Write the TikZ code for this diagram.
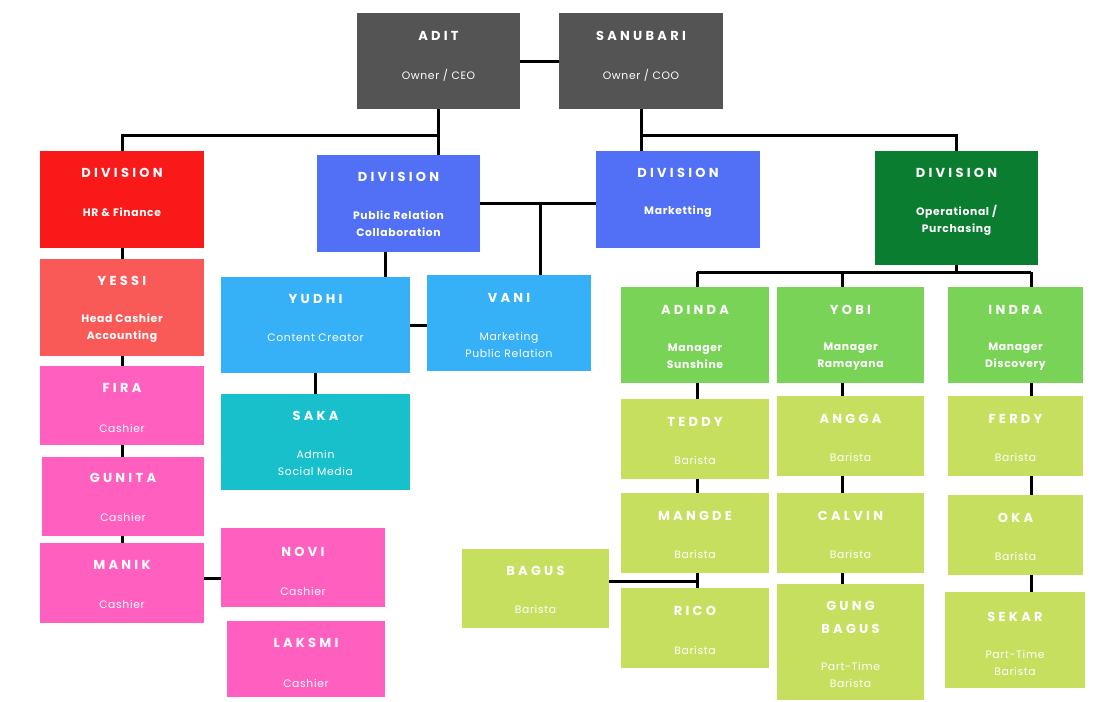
\documentclass[tikz,border=0pt]{standalone}
\usepackage{fontspec}
\setmainfont{Poppins}
\newfontfamily\nmfont[LetterSpace=25]{Poppins}
\newfontfamily\sbfont[LetterSpace=6]{Poppins}
\usetikzlibrary{calc}
\definecolor{cgrey}{RGB}{84,84,84}
\definecolor{cred}{RGB}{250,25,25}
\definecolor{csalmon}{RGB}{249,90,88}
\definecolor{cpink}{RGB}{255,95,190}
\definecolor{cblue}{RGB}{82,112,246}
\definecolor{csky}{RGB}{54,176,247}
\definecolor{cteal}{RGB}{24,192,204}
\definecolor{cdgreen}{RGB}{11,125,48}
\definecolor{cgreen}{RGB}{121,211,86}
\definecolor{clime}{RGB}{199,223,94}
\tikzset{
  obox/.style={rectangle,draw=none,inner sep=0pt,outer sep=0pt},
  nm/.style={text=white,inner sep=0pt,font=\nmfont\bfseries\fontsize{13}{23}\selectfont,align=center},
  sb/.style={text=white,inner sep=0pt,font=\sbfont\fontsize{10.8}{17}\selectfont,align=center},
  conn/.style={line width=3pt,black},
}
\newcommand\orgbox[6]{%
  \node[obox,fill=#6,minimum width={(#4-#2)*1pt},minimum height={(#5-#3)*1pt}] (#1) at ({(#2+#4)/2},{(#3+#5)/2}) {};}
\newcommand\orgtext[5]{%
  \node[nm] (#1-t) at ($(#1.north)+(0,#2)$) {#3};
  \node[sb] (#1-s) at ($(#1.north)+(0,#4)$) {#5};}
\begin{document}
\begin{tikzpicture}[x=1pt,y=-1pt]
\fill[white] (0,0) rectangle (1096,702);
\useasboundingbox (0,0) rectangle (1096,702);
% coordinates for connector levels
\coordinate (hlev) at (0,135);
\coordinate (pm) at (540,203);
\coordinate (pry) at (385,250);
\coordinate (mn) at (212,578);
\coordinate (colA) at (697,272);
\coordinate (colB) at (842,272);
\coordinate (colC) at (1031,272);
\coordinate (bj) at (697,581);
% boxes
\orgbox{adit}{357}{13}{520}{109}{cgrey}
\orgbox{sanubari}{559}{13}{723}{109}{cgrey}
\orgbox{hr}{40}{151}{204}{248}{cred}
\orgbox{prdiv}{317}{155}{480}{252}{cblue}
\orgbox{mkt}{596}{151}{760}{248}{cblue}
\orgbox{opdiv}{875}{151}{1038}{265}{cdgreen}
\orgbox{yessi}{40}{259}{204}{356}{csalmon}
\orgbox{fira}{40}{366}{204}{445}{cpink}
\orgbox{gunita}{42}{457}{204}{536}{cpink}
\orgbox{manik}{40}{543}{204}{623}{cpink}
\orgbox{novi}{221}{528}{385}{607}{cpink}
\orgbox{laksmi}{227}{621}{385}{697}{cpink}
\orgbox{yudhi}{221}{277}{410}{373}{csky}
\orgbox{vani}{427}{275}{591}{371}{csky}
\orgbox{saka}{221}{394}{410}{490}{cteal}
\orgbox{adinda}{621}{287}{769}{383}{cgreen}
\orgbox{yobi}{777}{287}{924}{383}{cgreen}
\orgbox{indra}{948}{287}{1083}{383}{cgreen}
\orgbox{teddy}{621}{399}{769}{479}{clime}
\orgbox{mangde}{621}{493}{769}{573}{clime}
\orgbox{rico}{621}{588}{769}{668}{clime}
\orgbox{bagus}{462}{549}{609}{628}{clime}
\orgbox{angga}{777}{396}{924}{476}{clime}
\orgbox{calvin}{777}{493}{924}{573}{clime}
\orgbox{gung}{777}{584}{924}{700}{clime}
\orgbox{ferdy}{948}{396}{1083}{476}{clime}
\orgbox{oka}{948}{495}{1083}{575}{clime}
\orgbox{sekar}{945}{592}{1085}{688}{clime}
% connectors
\draw[conn] (adit.east) -- (sanubari.west);
\draw[conn] (adit.south) -- (adit.south |- prdiv.north);
\draw[conn] (hlev -| adit.south) -| (hr.north);
\draw[conn] (sanubari.south) -- (sanubari.south |- mkt.north);
\draw[conn] (hlev -| sanubari.south) -| (opdiv.north);
\draw[conn] (pm -| prdiv.east) -- (pm -| mkt.west);
\draw[conn] (pm) -- (pm |- vani.north);
\draw[conn] (pry |- prdiv.south) -- (pry |- yudhi.north);
\draw[conn] (yudhi.east) -- (yudhi.east -| vani.west);
\draw[conn] (yudhi.south) -- (saka.north);
\draw[conn] (hr.south) -- (hr.south |- yessi.north);
\draw[conn] (yessi.south) -- (yessi.south |- fira.north);
\draw[conn] (fira.south) -- (fira.south |- gunita.north);
\draw[conn] (gunita.south -| fira.south) -- (fira.south |- manik.north);
\draw[conn] (mn -| manik.east) -- (mn -| novi.west);
\draw[conn] (opdiv.south) -- (opdiv.south |- colA);
\draw[conn] (colA) -- (colC);
\draw[conn] (colA) -- (colA |- adinda.north);
\draw[conn] (colB) -- (colB |- yobi.north);
\draw[conn] (colC) -- (colC |- indra.north);
\draw[conn] (colA |- adinda.south) -- (colA |- teddy.north);
\draw[conn] (colA |- teddy.south) -- (colA |- mangde.north);
\draw[conn] (colA |- mangde.south) -- (colA |- rico.north);
\draw[conn] (bj -| bagus.east) -- (bj);
\draw[conn] (colB |- yobi.south) -- (colB |- angga.north);
\draw[conn] (colB |- angga.south) -- (colB |- calvin.north);
\draw[conn] (colB |- calvin.south) -- (colB |- gung.north);
\draw[conn] (colC |- indra.south) -- (colC |- ferdy.north);
\draw[conn] (colC |- ferdy.south) -- (colC |- oka.north);
\draw[conn] (colC |- oka.south) -- (colC |- sekar.north);
% texts
\orgtext{adit}{23}{ADIT}{62}{Owner / CEO}
\orgtext{sanubari}{23}{SANUBARI}{62}{Owner / COO}
\orgtext{hr}{22}{DIVISION}{61}{\bfseries HR \& Finance}
\orgtext{prdiv}{22}{DIVISION}{68.5}{\bfseries Public Relation\\\bfseries Collaboration}
\orgtext{mkt}{22}{DIVISION}{61}{\bfseries Marketting}
\orgtext{opdiv}{22}{DIVISION}{69}{\bfseries Operational /\\\bfseries Purchasing}
\orgtext{yessi}{22}{YESSI}{69}{\bfseries Head Cashier\\\bfseries Accounting}
\orgtext{fira}{22}{FIRA}{62}{Cashier}
\orgtext{gunita}{21}{GUNITA}{60}{Cashier}
\orgtext{manik}{22}{MANIK}{61}{Cashier}
\orgtext{novi}{24}{NOVI}{63}{Cashier}
\orgtext{laksmi}{22}{LAKSMI}{62}{Cashier}
\orgtext{yudhi}{22}{YUDHI}{61}{Content Creator}
\orgtext{vani}{23}{VANI}{70}{Marketing\\Public Relation}
\orgtext{saka}{22}{SAKA}{69}{Admin\\Social Media}
\orgtext{adinda}{23}{ADINDA}{69.5}{\bfseries Manager\\\bfseries Sunshine}
\orgtext{yobi}{23}{YOBI}{69.5}{\bfseries Manager\\\bfseries Ramayana}
\orgtext{indra}{23}{INDRA}{69.5}{\bfseries Manager\\\bfseries Discovery}
\orgtext{teddy}{23}{TEDDY}{61}{Barista}
\orgtext{mangde}{23}{MANGDE}{61}{Barista}
\orgtext{rico}{23}{RICO}{62}{Barista}
\orgtext{bagus}{22}{BAGUS}{60}{Barista}
\orgtext{angga}{23}{ANGGA}{61}{Barista}
\orgtext{calvin}{23}{CALVIN}{61}{Barista}
\orgtext{gung}{33.5}{GUNG\\BAGUS}{90.5}{Part-Time\\Barista}
\orgtext{ferdy}{23}{FERDY}{61}{Barista}
\orgtext{oka}{23}{OKA}{61}{Barista}
\orgtext{sekar}{25}{SEKAR}{70.5}{Part-Time\\Barista}
\end{tikzpicture}
\end{document}
